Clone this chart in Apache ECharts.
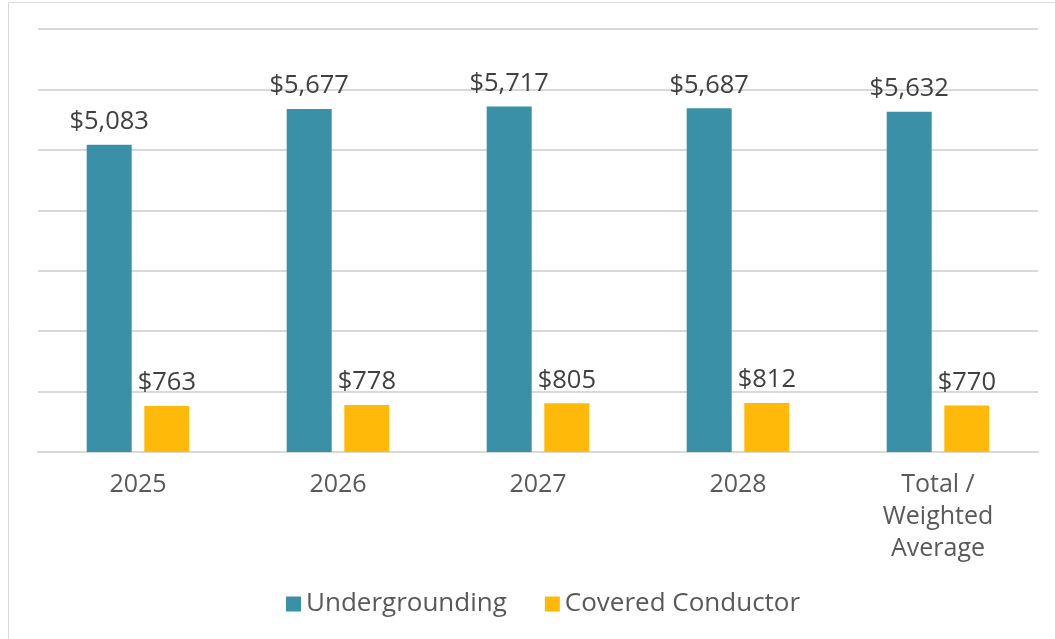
<!DOCTYPE html>
<html>
<head>
<meta charset="utf-8">
<script src="https://cdn.jsdelivr.net/npm/echarts@6/dist/echarts.min.js"></script>
<style>
  html, body { margin: 0; padding: 0; background: #ffffff; }
  #chart { width: 1055px; height: 639px; }
</style>
</head>
<body>
<div id="chart"></div>
<script>
// Cost per mile by year, undergrounding vs. covered conductor
const categories = ['2025', '2026', '2027', '2028', 'Total /\nWeighted\nAverage'];
const undergrounding = [5083, 5677, 5717, 5687, 5632];
const coveredConductor = [763, 778, 805, 812, 770];
const seriesNames = ['Undergrounding', 'Covered Conductor'];

const FONT = '"Open Sans", "Noto Sans", sans-serif';
const money = v => '$' + v.value.toLocaleString('en-US');

const labelStyle = {
  show: true,
  position: 'top',
  distance: 10,
  formatter: money,
  color: '#404040',
  fontFamily: FONT,
  fontSize: 25.5
};

const chart = echarts.init(document.getElementById('chart'));
chart.setOption({
  animation: false,
  backgroundColor: '#ffffff',
  graphic: [{
    type: 'rect',
    shape: { x: 8.5, y: 2.5, width: 1100, height: 700 },
    style: { fill: 'none', stroke: '#d9d9d9', lineWidth: 1 },
    silent: true
  }],
  grid: { left: 38, right: 17, top: 29, bottom: 187, containLabel: false },
  legend: {
    data: seriesNames,
    left: 281,
    top: 586,
    icon: 'rect',
    itemWidth: 15,
    itemHeight: 15,
    itemGap: 38,
    textStyle: { color: '#595959', fontFamily: FONT, fontSize: 26, padding: [0, 0, 0, 0] }
  },
  xAxis: {
    type: 'category',
    data: categories,
    axisLine: { lineStyle: { color: '#d9d9d9', width: 2 } },
    axisTick: { show: false },
    axisLabel: {
      color: '#595959',
      fontFamily: FONT,
      fontSize: 25,
      lineHeight: 32,
      margin: 17,
      interval: 0
    }
  },
  yAxis: {
    type: 'value',
    min: 0,
    max: 7000,
    interval: 1000,
    axisLabel: { show: false },
    axisLine: { show: false },
    axisTick: { show: false },
    splitLine: { lineStyle: { color: '#d9d9d9', width: 2 } }
  },
  series: [
    {
      name: seriesNames[0],
      type: 'bar',
      data: undergrounding,
      barWidth: 45,
      barGap: '28%',
      itemStyle: { color: '#3a91a7' },
      label: labelStyle
    },
    {
      name: seriesNames[1],
      type: 'bar',
      data: coveredConductor,
      barWidth: 45,
      itemStyle: { color: '#ffb908' },
      label: labelStyle
    }
  ]
});
</script>
</body>
</html>
